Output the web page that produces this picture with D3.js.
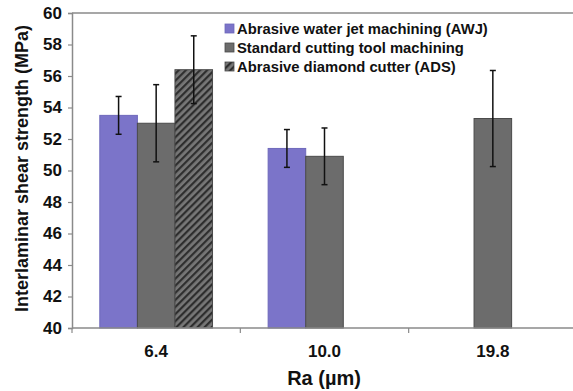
<!DOCTYPE html>
<html>
<head>
<meta charset="utf-8">
<script src="https://cdn.jsdelivr.net/npm/d3@7"></script>
<style>
  html, body { margin: 0; padding: 0; background: #fff; }
  svg { display: block; font-family: "Liberation Sans", Arial, sans-serif; }
</style>
</head>
<body>
<svg id="chart" width="573" height="391"></svg>
<script>
// Roughness classes (Ra, µm)
const categories = ["6.4", "10.0", "19.8"];
const seriesNames = [
  "Abrasive water jet machining (AWJ)",
  "Standard cutting tool machining",
  "Abrasive diamond cutter (ADS)"
];
// Mean interlaminar shear strength (MPa); null = not tested
const awjValues = [53.5, 51.4, null];
const stdValues = [53.0, 50.9, 53.3];
const adsValues = [56.4, null, null];
// Half-width of the error bars (MPa)
const awjErrors = [1.2, 1.2, null];
const stdErrors = [2.45, 1.8, 3.05];
const adsErrors = [2.15, null, null];
const yTicks = [40, 42, 44, 46, 48, 50, 52, 54, 56, 58, 60];

const svg = d3.select("#chart");
const margin = { left: 72, right: -4, top: 13, bottom: 63 };
const W = 573, H = 391;

const x = d3.scaleBand().domain(categories)
  .range([margin.left, W - margin.right]).paddingInner(0).paddingOuter(0);
const y = d3.scaleLinear().domain([40, 60]).range([H - margin.bottom, margin.top]);
const xs = d3.scaleBand().domain(seriesNames).range([0, x.bandwidth()]).paddingInner(0).paddingOuter(0.74);

// hatch pattern for the ADS series
const defs = svg.append("defs");
const pat = defs.append("pattern").attr("id", "hatch")
  .attr("patternUnits", "userSpaceOnUse").attr("width", 5).attr("height", 5)
  .attr("patternTransform", "rotate(45)");
pat.append("rect").attr("width", 5).attr("height", 5).attr("fill", "#777");
pat.append("rect").attr("width", 2.2).attr("height", 5).attr("fill", "#2e2e2e");

const fills = ["#7b74c9", "#6c6c6c", "url(#hatch)"];
const strokes = ["#6e68bb", "#4a4a4a", "#4a4a4a"];
const valueSets = [awjValues, stdValues, adsValues];
const errorSets = [awjErrors, stdErrors, adsErrors];

const FONT = "Liberation Sans, Arial, sans-serif";

// top frame line
svg.append("line")
  .attr("x1", margin.left).attr("x2", W)
  .attr("y1", y(60)).attr("y2", y(60))
  .attr("stroke", "#8a8a8a").attr("stroke-width", 1.5);

// bars
seriesNames.forEach((name, si) => {
  const g = svg.append("g");
  categories.forEach((c, ci) => {
    const v = valueSets[si][ci];
    if (v == null) return;
    g.append("rect")
      .attr("x", x(c) + xs(name))
      .attr("y", y(v))
      .attr("width", xs.bandwidth())
      .attr("height", y(40) - y(v))
      .attr("fill", fills[si])
      .attr("stroke", strokes[si])
      .attr("stroke-width", 1);
  });
});

// error bars
seriesNames.forEach((name, si) => {
  categories.forEach((c, ci) => {
    const v = valueSets[si][ci], e = errorSets[si][ci];
    if (v == null || e == null) return;
    const cx = x(c) + xs(name) + xs.bandwidth() / 2;
    const g = svg.append("g").attr("stroke", "#111").attr("stroke-width", 1.5);
    g.append("line").attr("x1", cx).attr("x2", cx).attr("y1", y(v + e)).attr("y2", y(v - e));
    g.append("line").attr("x1", cx - 3).attr("x2", cx + 3).attr("y1", y(v + e)).attr("y2", y(v + e));
    g.append("line").attr("x1", cx - 3).attr("x2", cx + 3).attr("y1", y(v - e)).attr("y2", y(v - e));
  });
});

// y axis
const yAxis = svg.append("g")
  .attr("transform", `translate(${margin.left},0)`)
  .call(d3.axisLeft(y).tickValues(yTicks).tickSize(4).tickPadding(6).tickFormat(d3.format("d")));
yAxis.select(".domain").attr("stroke", "#8a8a8a").attr("stroke-width", 1.5);
yAxis.selectAll(".tick line").attr("stroke", "#8a8a8a").attr("stroke-width", 1.2);
yAxis.selectAll(".tick text")
  .attr("font-size", 17).attr("font-weight", "bold").attr("fill", "#111")
  .attr("font-family", FONT);

// x axis: ticks at category boundaries, labels centred
const xAxisG = svg.append("g").attr("transform", `translate(0,${y(40)})`);
xAxisG.append("line").attr("x1", margin.left).attr("x2", W)
  .attr("stroke", "#8a8a8a").attr("stroke-width", 1.5);
categories.forEach((c) => {
  xAxisG.append("line").attr("x1", x(c)).attr("x2", x(c)).attr("y1", 0).attr("y2", 5)
    .attr("stroke", "#8a8a8a").attr("stroke-width", 1.2);
  xAxisG.append("text")
    .attr("x", x(c) + x.bandwidth() / 2).attr("y", 29)
    .attr("text-anchor", "middle")
    .attr("font-size", 17).attr("font-weight", "bold").attr("fill", "#111")
    .text(c);
});

// axis titles
svg.append("text")
  .attr("x", 324).attr("y", 385)
  .attr("text-anchor", "middle")
  .attr("font-size", 20).attr("font-weight", "bold").attr("fill", "#111")
  .text("Ra (µm)");
svg.append("text")
  .attr("transform", `translate(28,${(y(40) + y(60)) / 2 - 2}) rotate(-90)`)
  .attr("text-anchor", "middle")
  .attr("font-size", 18).attr("font-weight", "bold").attr("fill", "#111")
  .text("Interlaminar shear strength (MPa)");

// legend
const legend = svg.append("g").attr("transform", "translate(225,22)");
seriesNames.forEach((name, i) => {
  const row = legend.append("g").attr("transform", `translate(0,${i * 19})`);
  row.append("rect").attr("x", 0).attr("y", 2).attr("width", 9).attr("height", 9)
    .attr("fill", fills[i]).attr("stroke", strokes[i]).attr("stroke-width", 0.8);
  row.append("text").attr("x", 12).attr("y", 12)
    .attr("font-size", 14.8).attr("font-weight", "bold").attr("fill", "#111")
    .text(name);
});
</script>
</body>
</html>
